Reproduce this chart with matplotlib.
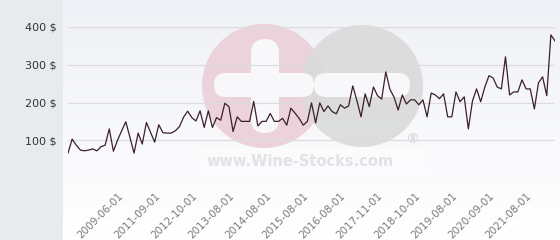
import numpy as np
import matplotlib
matplotlib.use("Agg")
import matplotlib.pyplot as plt
from matplotlib.patches import Circle, FancyBboxPatch, Rectangle

# price history, one value per listed date (USD)
prices = [66, 103, 87, 74, 72, 74, 77, 72, 83, 87,
          130, 71, 100, 125, 149, 108, 66, 119, 90, 147,
          121, 95, 141, 120, 119, 119, 125, 136, 161, 177,
          160, 151, 178, 134, 178, 134, 160, 153, 198, 189,
          123, 162, 150, 150, 150, 203, 138, 150, 150, 171,
          150, 150, 158, 140, 185, 172, 158, 140, 150, 199,
          146, 199, 176, 191, 176, 170, 194, 185, 191, 244,
          205, 162, 223, 189, 241, 218, 209, 281, 235, 214,
          180, 220, 196, 207, 207, 194, 207, 162, 225, 220,
          210, 223, 162, 162, 228, 202, 215, 130, 204, 236,
          202, 241, 271, 265, 241, 236, 321, 220, 228, 228,
          260, 236, 236, 183, 252, 268, 218, 379, 363]

date_labels = ["2009-06-01", "2011-09-01", "2012-10-01", "2013-08-01",
               "2014-08-01", "2015-08-01", "2016-08-01", "2017-11-01",
               "2018-10-01", "2019-08-01", "2020-09-01", "2021-08-01"]

y_ticks = [100, 200, 300, 400]

W, H = 560, 240
fig = plt.figure(figsize=(W / 100, H / 100), dpi=100)
fig.patch.set_facecolor("white")

def fx(px):
    return px / W

def fy(py):
    return 1 - py / H

# grey left panel
fig.patches.append(Rectangle((0, 0), fx(63), 1, transform=fig.transFigure,
                             facecolor="#e7ebee", edgecolor="none", zorder=0))

# gradient background of the chart area
bg = fig.add_axes([fx(63), 0, 1 - fx(63), 1], zorder=0)
grad = np.linspace(0, 1, 256).reshape(-1, 1)
top = np.array([0.94, 0.945, 0.965])
bot = np.array([1.0, 1.0, 1.0])
img = top[None, None, :] * (1 - grad[:, :, None]) + bot[None, None, :] * grad[:, :, None]
bg.imshow(img, aspect="auto", extent=[0, 1, 0, 1], origin="upper")
bg.set_axis_off()

# watermark logo in pixel coordinates
wm = fig.add_axes([0, 0, 1, 1], zorder=1)
wm.set_xlim(0, W)
wm.set_ylim(H, 0)
wm.set_axis_off()
wm.add_patch(Rectangle((200, 148), 228, 26, facecolor="white", alpha=0.35,
                       edgecolor="none"))
wm.add_patch(Circle((264, 86), 62, facecolor="#ebcfd8", edgecolor="none", alpha=0.9))
wm.add_patch(Circle((362, 86), 61, facecolor="#dadada", edgecolor="none", alpha=0.9))
bar = dict(facecolor="#f8f8fa", edgecolor="none")
wm.add_patch(FancyBboxPatch((214, 73), 100, 24, boxstyle="round,pad=0,rounding_size=12", **bar))
wm.add_patch(FancyBboxPatch((251, 39), 28, 94, boxstyle="round,pad=0,rounding_size=14", **bar))
wm.add_patch(FancyBboxPatch((314, 73), 96, 24, boxstyle="round,pad=0,rounding_size=12", **bar))
wm.text(300, 162, "www.Wine-Stocks.com", ha="center", va="center",
        fontsize=10.5, fontweight="bold", color="#e2e2e4")
wm.text(412, 139, "®", ha="center", va="center", fontsize=10,
        fontweight="bold", color="#d8d8da")

# main chart
ax = fig.add_axes([fx(68), fy(178), fx(555) - fx(68), fy(27) - fy(178)], zorder=2)
ax.patch.set_alpha(0)
x = np.arange(len(prices))
ax.plot(x, prices, color="#3b1f2b", linewidth=0.9, zorder=3)
ax.set_xlim(0, len(prices) - 1)
ax.set_ylim(0, 400)

ax.set_yticks([0] + y_ticks)
ax.set_yticklabels([""] + ["%d $" % v for v in y_ticks])
ax.yaxis.grid(True, color="#dcdcdf", linewidth=0.9)
ax.tick_params(axis="y", length=0, pad=8, labelsize=8, labelcolor="#333333")

tick_pos = [12 + 9 * i for i in range(len(date_labels))]
ax.set_xticks(tick_pos)
ax.set_xticklabels(date_labels, rotation=45, ha="right", rotation_mode="anchor")
ax.tick_params(axis="x", length=0, pad=9, labelsize=7.5, labelcolor="#7a7a7a")

for s in ax.spines.values():
    s.set_visible(False)

fig.savefig("out.png", dpi=100)
